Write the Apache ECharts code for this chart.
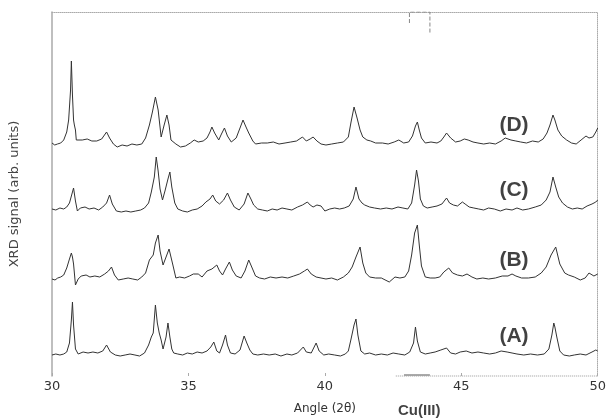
<!DOCTYPE html>
<html>
<head>
<meta charset="utf-8">
<script src="https://cdn.jsdelivr.net/npm/echarts@6/dist/echarts.min.js"></script>
<style>html,body{margin:0;padding:0;background:#fff}#c{width:609px;height:420px}</style>
</head>
<body>
<div id="c"></div>
<script>
// Tick labels of the angle axis (2θ, degrees)
const angleTicks = [30, 35, 40, 45, 50];
// Trace names and vertical offsets (arb. units) of the stacked patterns
const traceNames = ['(A)', '(B)', '(C)', '(D)'];
const baselines = [21, 97, 167, 232];
// Cu(111) reference marker position (2θ)
const cuMark = [43.1, 43.85];
// Visible part of the (scanned) bottom frame line, 2θ range
const bottomFrame = [42.6, 50];

// Each pattern: [2θ, signal above its own baseline]
const patternD = [[30.00,1],[30.10,-1],[30.20,0],[30.32,1],[30.43,4],[30.54,12],[30.61,24],[30.68,54],[30.71,83],[30.75,49],[30.79,24],[30.82,19],[30.86,14],[30.89,4],[30.96,2],[31.11,4],[31.29,5],[31.46,3],[31.64,3],[31.82,5],[32.00,12],[32.11,6],[32.25,0],[32.39,-3],[32.57,-1],[32.75,-2],[32.93,0],[33.11,-1],[33.29,0],[33.43,6],[33.57,19],[33.68,32],[33.79,47],[33.89,34],[34.00,7],[34.11,19],[34.21,29],[34.29,19],[34.36,4],[34.54,0],[34.71,-3],[34.89,-2],[35.07,1],[35.21,4],[35.36,2],[35.54,3],[35.68,6],[35.79,12],[35.86,17],[35.96,11],[36.11,4],[36.21,10],[36.32,16],[36.43,8],[36.57,2],[36.75,6],[36.89,16],[37.00,24],[37.11,17],[37.21,11],[37.36,3],[37.46,0],[37.68,1],[37.89,1],[38.11,2],[38.32,0],[38.54,1],[38.75,2],[38.96,3],[39.18,7],[39.32,3],[39.46,5],[39.57,7],[39.71,3],[39.86,0],[40.04,-1],[40.25,0],[40.46,1],[40.68,2],[40.86,7],[40.96,22],[41.07,37],[41.18,26],[41.29,14],[41.39,7],[41.54,4],[41.68,3],[41.86,1],[42.11,1],[42.32,0],[42.54,2],[42.71,4],[42.89,1],[43.07,2],[43.21,8],[43.32,18],[43.39,22],[43.46,14],[43.54,6],[43.68,1],[43.89,2],[44.11,1],[44.25,3],[44.36,7],[44.46,11],[44.61,6],[44.79,2],[44.96,3],[45.11,5],[45.25,4],[45.43,2],[45.61,1],[45.82,0],[46.04,1],[46.25,0],[46.46,3],[46.61,6],[46.68,7],[46.82,4],[47.00,3],[47.18,2],[47.39,1],[47.61,3],[47.82,2],[48.00,5],[48.14,11],[48.25,19],[48.36,29],[48.43,24],[48.54,14],[48.68,8],[48.86,4],[49.04,1],[49.21,0],[49.39,4],[49.57,8],[49.68,6],[49.82,7],[49.93,12],[50.00,16]];

const patternC = [[30.00,0],[30.14,-1],[30.29,1],[30.43,0],[30.54,2],[30.64,6],[30.72,14],[30.79,21],[30.86,8],[30.93,-2],[31.04,1],[31.21,2],[31.36,0],[31.54,1],[31.71,-1],[31.86,2],[32.00,6],[32.11,14],[32.21,5],[32.36,-2],[32.54,-3],[32.71,-2],[32.89,-3],[33.07,-2],[33.25,-1],[33.39,1],[33.54,6],[33.64,17],[33.75,32],[33.82,52],[33.89,38],[33.96,20],[34.05,9],[34.14,18],[34.25,30],[34.32,37],[34.39,22],[34.50,6],[34.61,0],[34.79,-2],[34.96,-3],[35.14,-1],[35.32,0],[35.50,3],[35.64,7],[35.79,10],[35.89,14],[36.00,8],[36.14,5],[36.29,9],[36.43,16],[36.54,9],[36.68,2],[36.86,-1],[37.04,5],[37.18,16],[37.29,10],[37.39,4],[37.54,0],[37.71,-1],[37.89,-2],[38.07,0],[38.25,-1],[38.43,1],[38.61,0],[38.79,-1],[39.00,2],[39.18,4],[39.36,7],[39.46,4],[39.57,2],[39.71,4],[39.86,3],[40.00,-2],[40.18,0],[40.36,1],[40.54,0],[40.71,1],[40.89,3],[41.04,10],[41.14,22],[41.25,10],[41.36,6],[41.46,4],[41.64,2],[41.82,1],[42.04,0],[42.25,1],[42.46,0],[42.68,2],[42.86,1],[43.04,0],[43.18,6],[43.29,24],[43.36,39],[43.43,28],[43.50,10],[43.61,3],[43.75,1],[43.93,2],[44.11,3],[44.29,5],[44.46,11],[44.57,6],[44.71,4],[44.86,3],[45.04,7],[45.14,5],[45.29,2],[45.46,1],[45.64,0],[45.82,-1],[46.00,1],[46.21,0],[46.43,-2],[46.64,0],[46.86,-1],[47.04,1],[47.25,-1],[47.46,0],[47.71,2],[47.93,4],[48.11,9],[48.25,17],[48.36,32],[48.46,22],[48.57,12],[48.71,6],[48.89,2],[49.07,0],[49.25,1],[49.43,0],[49.61,3],[49.79,5],[49.93,7],[50.00,9]];

const patternB = [[30.00,0],[30.11,-1],[30.21,1],[30.32,2],[30.43,4],[30.54,11],[30.64,20],[30.71,26],[30.75,22],[30.79,15],[30.86,-6],[30.96,0],[31.07,3],[31.25,4],[31.39,2],[31.57,3],[31.75,2],[31.93,5],[32.07,8],[32.18,12],[32.29,4],[32.43,-1],[32.61,0],[32.79,1],[32.96,0],[33.14,-1],[33.29,2],[33.43,6],[33.57,19],[33.71,24],[33.79,36],[33.89,44],[33.96,28],[34.07,14],[34.18,22],[34.29,30],[34.36,32],[34.43,14],[34.54,1],[34.68,2],[34.86,1],[35.04,3],[35.18,5],[35.36,5],[35.50,2],[35.68,8],[35.86,10],[36.04,14],[36.14,8],[36.25,4],[36.36,10],[36.50,17],[36.61,9],[36.75,3],[36.93,1],[37.07,8],[37.21,19],[37.32,12],[37.46,3],[37.61,1],[37.79,0],[38.00,2],[38.21,1],[38.43,2],[38.64,1],[38.86,3],[39.07,5],[39.25,8],[39.36,10],[39.50,5],[39.68,2],[39.86,1],[40.04,0],[40.25,1],[40.46,-1],[40.68,2],[40.86,6],[41.00,12],[41.14,22],[41.29,32],[41.39,16],[41.50,6],[41.64,2],[41.86,1],[42.07,1],[42.36,-3],[42.57,2],[42.75,1],[42.93,2],[43.07,8],[43.18,24],[43.29,46],[43.39,54],[43.46,34],[43.54,13],[43.68,2],[43.86,1],[44.04,1],[44.21,2],[44.36,7],[44.54,11],[44.68,6],[44.86,4],[45.04,3],[45.21,5],[45.39,2],[45.57,0],[45.79,1],[46.00,0],[46.25,1],[46.50,3],[46.71,3],[46.86,5],[47.00,3],[47.21,1],[47.46,1],[47.71,2],[47.93,6],[48.11,12],[48.29,24],[48.46,32],[48.61,15],[48.79,6],[48.93,4],[49.14,2],[49.36,-1],[49.54,1],[49.68,6],[49.86,3],[50.00,5]];

const patternA = [[30.00,0],[30.14,1],[30.29,0],[30.43,1],[30.54,3],[30.64,12],[30.71,35],[30.75,53],[30.79,30],[30.86,6],[30.96,1],[31.14,3],[31.32,2],[31.50,3],[31.68,2],[31.86,4],[32.00,10],[32.14,3],[32.32,0],[32.50,-1],[32.68,0],[32.86,1],[33.04,0],[33.21,-1],[33.39,2],[33.54,10],[33.64,18],[33.71,22],[33.79,50],[33.86,32],[33.93,22],[34.00,15],[34.07,6],[34.18,18],[34.25,32],[34.32,18],[34.39,6],[34.46,2],[34.61,1],[34.79,0],[34.96,2],[35.14,1],[35.32,3],[35.50,2],[35.68,4],[35.82,8],[35.93,13],[36.04,4],[36.14,2],[36.25,10],[36.36,20],[36.43,10],[36.54,2],[36.71,1],[36.89,5],[37.04,19],[37.14,12],[37.25,5],[37.36,1],[37.54,0],[37.75,1],[37.96,0],[38.18,1],[38.39,-1],[38.61,1],[38.79,0],[39.00,2],[39.21,8],[39.32,3],[39.50,2],[39.68,12],[39.79,4],[39.96,0],[40.14,1],[40.36,0],[40.57,-1],[40.75,1],[40.86,4],[40.96,16],[41.07,30],[41.14,36],[41.21,20],[41.32,4],[41.46,1],[41.64,2],[41.86,0],[42.07,1],[42.29,0],[42.50,2],[42.71,1],[42.93,0],[43.11,3],[43.25,12],[43.32,28],[43.39,14],[43.50,3],[43.68,1],[43.86,2],[44.04,3],[44.25,5],[44.46,7],[44.61,2],[44.79,1],[44.96,3],[45.18,4],[45.39,2],[45.61,3],[45.82,2],[46.04,1],[46.25,2],[46.46,4],[46.68,3],[46.86,2],[47.04,1],[47.29,0],[47.54,1],[47.79,0],[48.04,1],[48.21,6],[48.32,20],[48.39,32],[48.43,28],[48.50,18],[48.61,4],[48.75,0],[48.96,-1],[49.14,0],[49.36,1],[49.57,0],[49.79,3],[49.93,5],[50.00,4]];

const patterns = [patternA, patternB, patternC, patternD];
const labelAngle = 46.93;
const labelLift = 19;

const chart = echarts.init(document.getElementById('c'), null, {renderer: 'canvas'});

const traceSeries = patterns.map((p, k) => ({
  type: 'line',
  name: traceNames[k],
  data: p.map(d => [d[0], d[1] + baselines[k]]),
  showSymbol: false,
  symbol: 'none',
  smooth: false,
  lineStyle: {color: '#333', width: 1},
  silent: true,
  z: 3
}));

const labelSeries = {
  type: 'scatter',
  data: traceNames.map((n, k) => ({value: [labelAngle, baselines[k] + labelLift], name: n})),
  symbolSize: 0,
  silent: true,
  label: {
    show: true, position: 'inside',
    formatter: p => p.name,
    fontFamily: 'Liberation Sans, Arial, sans-serif', fontWeight: 'bold', fontSize: 21, color: '#111'
  },
  z: 5
};

const bracketSeries = {
  type: 'line',
  data: [[cuMark[0], 353], [cuMark[0], 364], [cuMark[1], 364], [cuMark[1], 343]],
  showSymbol: false, symbol: 'none',
  lineStyle: {color: '#888', width: 1, type: 'dashed'},
  silent: true, z: 2
};
const bracketBottom = {
  type: 'line',
  data: [[cuMark[0] - 0.2, 1], [cuMark[1], 1]],
  showSymbol: false, symbol: 'none',
  lineStyle: {color: '#555', width: 1},
  silent: true, z: 2
};
const bottomLine = {
  type: 'line',
  data: [[bottomFrame[0], 0], [bottomFrame[1], 0]],
  showSymbol: false, symbol: 'none', clip: false,
  lineStyle: {color: '#999', width: 1, type: 'dotted'},
  silent: true, z: 2
};
const cuLabel = {
  type: 'scatter', data: [[43.46, -35]], symbolSize: 0, silent: true, clip: false,
  label: {show: true, position: 'inside', formatter: 'Cu(III)', fontFamily: 'Liberation Sans, Arial, sans-serif', fontWeight: 'bold', fontSize: 15, color: '#111'}
};

chart.setOption({
  animation: false,
  backgroundColor: '#fff',
  grid: {left: 41, right: 8, top: 12, bottom: 44, containLabel: false},
  xAxis: [{
    type: 'value', min: angleTicks[0], max: angleTicks[angleTicks.length - 1], interval: 5,
    position: 'bottom',
    name: 'Angle (2θ)', nameLocation: 'middle', nameGap: 27,
    nameTextStyle: {fontFamily: 'DejaVu Sans', fontSize: 12, color: '#333'},
    axisLine: {show: false, onZero: false},
    axisTick: {show: true, inside: true, length: 3, lineStyle: {color: '#aaa'}},
    axisLabel: {margin: 4, fontFamily: 'DejaVu Sans', fontSize: 13, color: '#333'},
    splitLine: {show: false}
  }, {
    type: 'value', min: angleTicks[0], max: angleTicks[angleTicks.length - 1], interval: 5,
    position: 'top',
    axisLine: {show: true, onZero: false, lineStyle: {color: '#aaa', width: 1, type: 'dotted'}},
    axisTick: {show: false}, axisLabel: {show: false}, splitLine: {show: false}
  }],
  yAxis: [{
    type: 'value', min: 0, max: 364, position: 'left',
    name: 'XRD signal (arb. units)', nameLocation: 'middle', nameGap: 31, nameRotate: 90,
    nameTextStyle: {fontFamily: 'DejaVu Sans', fontSize: 13, color: '#444'},
    axisLine: {show: true, onZero: false, lineStyle: {color: '#aaa', width: 1.5}},
    axisTick: {show: false}, axisLabel: {show: false}, splitLine: {show: false}
  }, {
    type: 'value', min: 0, max: 364, position: 'right',
    axisLine: {show: true, onZero: false, lineStyle: {color: '#aaa', width: 1, type: 'dotted'}},
    axisTick: {show: false}, axisLabel: {show: false}, splitLine: {show: false}
  }],
  series: traceSeries.concat([labelSeries, bracketSeries, bracketBottom, bottomLine, cuLabel])
});
</script>
</body>
</html>
